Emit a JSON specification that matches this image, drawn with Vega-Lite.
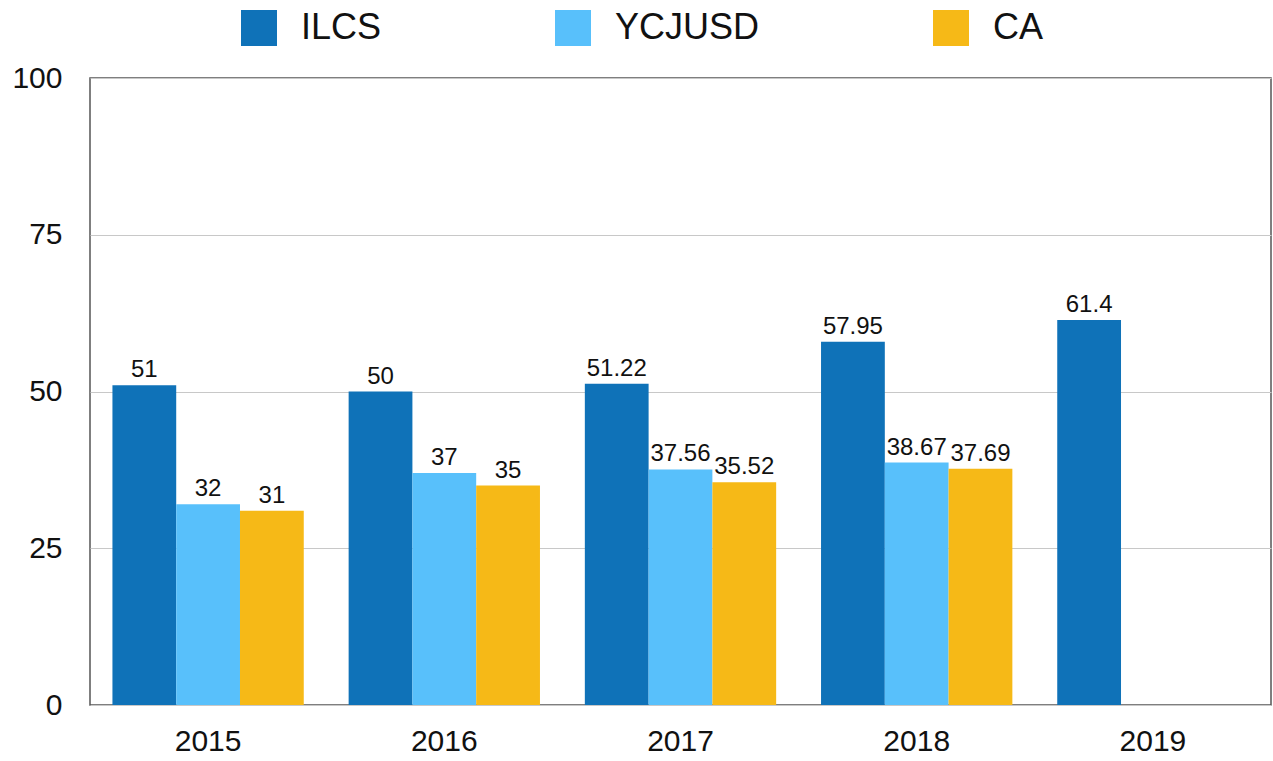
{
  "$schema": "https://vega.github.io/schema/vega-lite/v6.json",
  "autosize": {"type": "none"},
  "width": 1181,
  "height": 627,
  "padding": {"left": 90, "top": 78, "right": 2, "bottom": 56},
  "background": "white",
  "config": {
    "font": "Liberation Sans",
    "view": {"stroke": "#555555", "strokeWidth": 1.5}
  },
  "data": {
    "values": [
      {"year": "2015", "series": "ILCS", "value": 51},
      {"year": "2015", "series": "YCJUSD", "value": 32},
      {"year": "2015", "series": "CA", "value": 31},
      {"year": "2016", "series": "ILCS", "value": 50},
      {"year": "2016", "series": "YCJUSD", "value": 37},
      {"year": "2016", "series": "CA", "value": 35},
      {"year": "2017", "series": "ILCS", "value": 51.22},
      {"year": "2017", "series": "YCJUSD", "value": 37.56},
      {"year": "2017", "series": "CA", "value": 35.52},
      {"year": "2018", "series": "ILCS", "value": 57.95},
      {"year": "2018", "series": "YCJUSD", "value": 38.67},
      {"year": "2018", "series": "CA", "value": 37.69},
      {"year": "2019", "series": "ILCS", "value": 61.4}
    ]
  },
  "encoding": {
    "x": {
      "field": "year", "type": "nominal",
      "scale": {"paddingInner": 0.19, "paddingOuter": 0.095},
      "axis": {"title": null, "labelAngle": 0, "labelFontSize": 30, "labelColor": "#111111", "ticks": false, "domain": false, "labelPadding": 21}
    },
    "xOffset": {"field": "series", "type": "nominal", "sort": ["ILCS", "YCJUSD", "CA"], "scale": {"domain": ["ILCS", "YCJUSD", "CA"], "paddingInner": 0, "paddingOuter": 0}},
    "y": {
      "field": "value", "type": "quantitative",
      "scale": {"domain": [0, 100], "nice": false},
      "axis": {"title": null, "values": [0, 25, 50, 75, 100], "labelFontSize": 30, "labelColor": "#111111", "ticks": false, "domain": false, "labelPadding": 28, "gridColor": "#c8c8c8", "gridWidth": 1.2}
    }
  },
  "layer": [
    {
      "mark": {"type": "bar"},
      "encoding": {
        "color": {
          "field": "series", "type": "nominal",
          "scale": {"domain": ["ILCS", "YCJUSD", "CA"], "range": ["#0f72b8", "#58c0fb", "#f6b917"]},
          "legend": {
            "title": null, "orient": "none", "direction": "horizontal",
            "legendX": 141, "legendY": -78,
            "symbolType": "square", "symbolSize": 1296, "symbolStrokeWidth": 0,
            "labelFontSize": 36, "labelColor": "#111111", "labelOffset": 24,
            "columnPadding": 173, "symbolOffset": 0, "padding": 10
          }
        }
      }
    },
    {
      "mark": {"type": "text", "baseline": "alphabetic", "dy": -8, "fontSize": 24, "color": "#111111"},
      "encoding": {"text": {"field": "value", "type": "quantitative"}}
    }
  ]
}
